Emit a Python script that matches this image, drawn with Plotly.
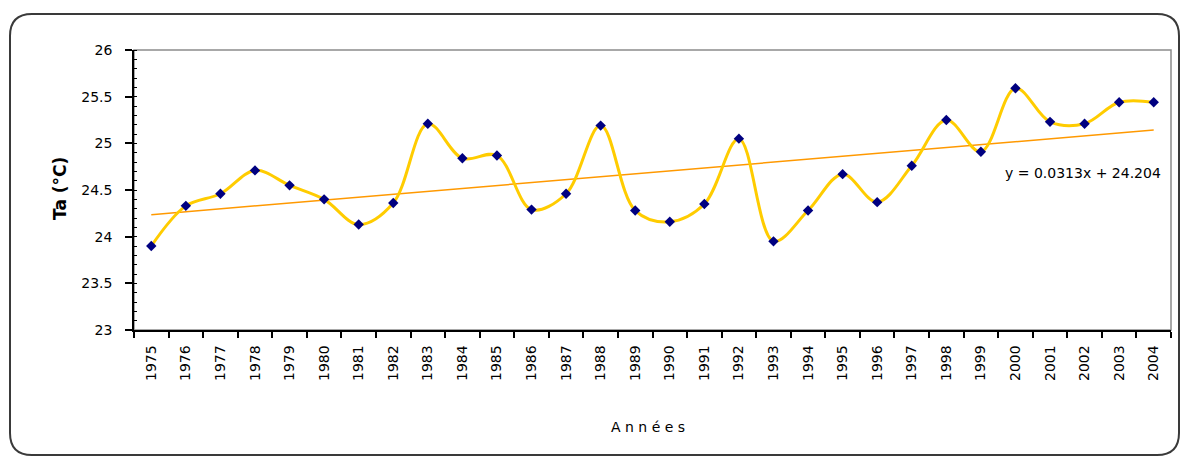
import plotly.graph_objects as go

years = [str(y) for y in range(1975, 2005)]
temperature = [23.90, 24.33, 24.46, 24.71, 24.55, 24.40, 24.13, 24.36, 25.21, 24.84,
               24.87, 24.29, 24.46, 25.19, 24.28, 24.16, 24.35, 25.05, 23.95, 24.28,
               24.67, 24.37, 24.76, 25.25, 24.91, 25.59, 25.23, 25.21, 25.44, 25.44]
trend_slope = 0.0313
trend_intercept = 24.204
trend_label = "y = 0.0313x + 24.204"
y_ticks = [23, 23.5, 24, 24.5, 25, 25.5, 26]

W, H = 1182, 456
L, R, T, B = 134, 1171, 50, 330


def px(x):
    return (x - L) / (R - L)


def py(y):
    return (B - y) / (B - T)


trend_x = [years[0], years[-1]]
trend_y = [trend_intercept + trend_slope * 1, trend_intercept + trend_slope * len(years)]

fig = go.Figure()
fig.add_trace(go.Scatter(
    x=trend_x, y=trend_y, mode="lines",
    line=dict(color="#FF9900", width=1.5), hoverinfo="skip", showlegend=False))
fig.add_trace(go.Scatter(
    x=years, y=temperature, mode="lines+markers",
    line=dict(color="#FFCC00", width=3, shape="spline", smoothing=1.0),
    marker=dict(symbol="diamond", size=8, color="#000080"),
    showlegend=False))

# outer rounded frame
x0, x1, y0, y1, r = 10, 1179, 14, 455, 22
path = (f"M {px(x0+r)},{py(y0)} L {px(x1-r)},{py(y0)} Q {px(x1)},{py(y0)} {px(x1)},{py(y0+r)} "
        f"L {px(x1)},{py(y1-r)} Q {px(x1)},{py(y1)} {px(x1-r)},{py(y1)} "
        f"L {px(x0+r)},{py(y1)} Q {px(x0)},{py(y1)} {px(x0)},{py(y1-r)} "
        f"L {px(x0)},{py(y0+r)} Q {px(x0)},{py(y0)} {px(x0+r)},{py(y0)} Z")
shapes = [
    dict(type="path", xref="paper", yref="paper", path=path,
         line=dict(color="#3a3a3a", width=2), layer="below"),
    dict(type="rect", xref="paper", yref="paper", x0=0, x1=1, y0=0, y1=1,
         line=dict(color="#8c8c8c", width=1.5), layer="below"),
]

font = "DejaVu Sans, Liberation Sans, Arial, sans-serif"
fig.update_layout(
    width=W, height=H,
    margin=dict(l=L, r=W - R, t=T, b=H - B),
    paper_bgcolor="white", plot_bgcolor="white",
    shapes=shapes,
    font=dict(family=font, size=13, color="black"),
    xaxis=dict(type="category", categoryorder="array", categoryarray=years,
               tickson="boundaries", ticks="outside", ticklen=6,
               tickcolor="black", tickwidth=1.5, showline=True, linecolor="black",
               linewidth=1.5, showgrid=False, tickangle=-90, zeroline=False,
               tickfont=dict(size=14), ticklabelstandoff=8,
               range=[-0.5, len(years) - 0.5]),
    yaxis=dict(range=[23, 26], tickvals=y_ticks, ticktext=[f"{v:g}" for v in y_ticks],
               ticks="outside", ticklen=7, tickcolor="black", tickwidth=1.5,
               showline=True, linecolor="black", linewidth=1.5, showgrid=False,
               zeroline=False, tickfont=dict(size=14), ticklabelstandoff=10,
               minor=dict(dtick=0.1, tick0=23, ticks="inside", ticklen=3,
                          tickcolor="black", tickwidth=1)),
    annotations=[
        dict(text="<b>Ta (°C)</b>", xref="paper", yref="paper", x=px(60), y=py(189),
             textangle=-90, showarrow=False, font=dict(size=17),
             xanchor="center", yanchor="middle"),
        dict(text="A n n é e s", xref="paper", yref="paper", x=px(648), y=py(427),
             showarrow=False, font=dict(size=14), xanchor="center", yanchor="middle"),
        dict(text=trend_label, xref="paper", yref="paper", x=px(1163), y=py(173),
             showarrow=False, font=dict(size=14), xanchor="right", yanchor="middle"),
    ],
)

fig.write_html("out.html")
